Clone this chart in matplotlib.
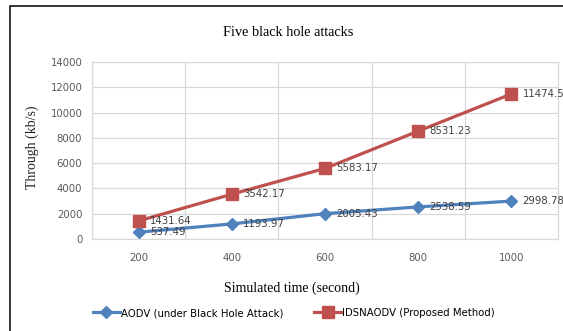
import numpy as np
import matplotlib.pyplot as plt
from matplotlib.patches import Rectangle

# simulated time (s) and throughput (kb/s) for each protocol
sim_time = ['200', '400', '600', '800', '1000']
aodv = [537.49, 1193.97, 2005.43, 2538.59, 2998.78]
idsnaodv = [1431.64, 3542.17, 5583.17, 8531.23, 11474.5]
yticks = [0, 2000, 4000, 6000, 8000, 10000, 12000, 14000]

blue = '#4F81BD'
red = '#C0504D'
sans = ['DejaVu Sans']
serif = ['Liberation Serif', 'DejaVu Serif']

fig = plt.figure(figsize=(5.63, 3.31), dpi=100)
ax = fig.add_axes([92/563, 1-239/331, (558-92)/563, (239-62)/331])

x = np.arange(len(sim_time))
ax.plot(x, aodv, color=blue, lw=2.3, marker='D', ms=6.5,
        label='AODV (under Black Hole Attack)', zorder=3)
ax.plot(x, idsnaodv, color=red, lw=2.3, marker='s', ms=8,
        label='IDSNAODV (Proposed Method)', zorder=3)

# value labels to the right of each marker
for xi, v in zip(x, aodv):
    ax.annotate(f'{v:g}', (xi, v), xytext=(8, 0), textcoords='offset points',
                va='center', ha='left', fontsize=7.3, color='#404040',
                family=sans, zorder=4)
for xi, v in zip(x, idsnaodv):
    ax.annotate(f'{v:g}', (xi, v), xytext=(8, 0), textcoords='offset points',
                va='center', ha='left', fontsize=7.3, color='#404040',
                family=sans, zorder=4, annotation_clip=False)

ax.set_xlim(-0.5, len(sim_time) - 0.5)
ax.set_ylim(0, 14000)
ax.set_yticks(yticks)
ax.set_yticklabels([str(t) for t in yticks])
ax.set_xticks(x)
ax.set_xticklabels(sim_time)
ax.set_xticks(np.arange(len(sim_time) + 1) - 0.5, minor=True)
ax.tick_params(which='both', length=0)
ax.tick_params(axis='y', pad=7)
ax.tick_params(axis='x', pad=10)
for lab in ax.get_xticklabels() + ax.get_yticklabels():
    lab.set_fontsize(7.3)
    lab.set_color('#595959')
    lab.set_family(sans)

ax.grid(True, axis='y', color='#D9D9D9', lw=0.9)
ax.grid(True, axis='x', which='minor', color='#D9D9D9', lw=0.9)
ax.set_axisbelow(True)
for s in ax.spines.values():
    s.set_color('#D9D9D9')
    s.set_linewidth(0.9)

fig.text(0.511, 1-33/331, 'Five black hole attacks', ha='center', va='center',
         fontsize=10.3, family=serif)
fig.text(0.519, 1-288/331, 'Simulated time (second)', ha='center', va='center',
         fontsize=10, family=serif)
fig.text(32/563, 1-147/331, 'Through (kb/s)', ha='center', va='center',
         rotation=90, fontsize=10, family=serif, color='#222222')

fig.legend(loc='center', bbox_to_anchor=(294/563, 1-313/331), ncol=2,
           frameon=False, prop={'family': sans, 'size': 7.3},
           handlelength=2.7, handletextpad=0.1, columnspacing=3.0)

# outer chart frame
fig.patches.append(Rectangle((10/563, -0.1), 1.0, 1-6/331+0.1,
                             transform=fig.transFigure, fill=False,
                             ec='black', lw=1.1))

fig.savefig('out.png', dpi=100)
